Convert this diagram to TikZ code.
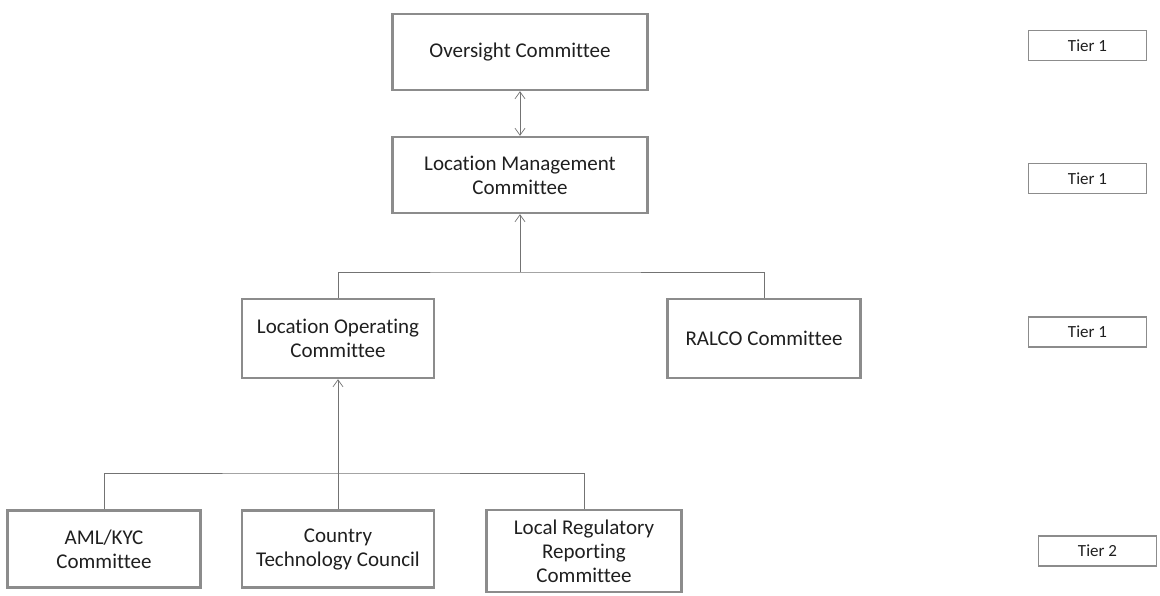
\documentclass[tikz,border=0pt]{standalone}
\usepackage{fontspec}
\setmainfont{Carlito}[Ligatures=NoCommon]
\usetikzlibrary{arrows.meta}
\begin{document}
\begin{tikzpicture}[x=1pt,y=-1pt,>={Straight Barb[length=7pt,width=10pt]}]
	\tikzstyle{committee}=[draw=black!45,line width=2.4pt,rectangle,align=center,font=\fontsize{21}{24}\selectfont,text=black!88]
	\tikzstyle{tier}=[draw=black!45,line width=1.8pt,rectangle,minimum width=118pt,minimum height=30pt,font=\fontsize{17}{20}\selectfont,text=black!88]
	\tikzstyle{link}=[draw=black!55,line width=0.7pt]
	\useasboundingbox (0,0) rectangle (1160,595);
	
	\node[committee,minimum width=255pt,minimum height=76pt] (Oversight) at (520,52) {Oversight Committee};
	\node[committee,minimum width=255pt,minimum height=76pt] (Mgmt) at (520,175) {Location Management\\Committee};
	\node[committee,minimum width=192pt,minimum height=79pt] (Operating) at (338,338.5) {Location Operating\\Committee};
	\node[committee,minimum width=193pt,minimum height=79pt] (Ralco) at (764,338.5) {RALCO Committee};
	\node[committee,minimum width=193pt,minimum height=77pt] (Aml) at (104,549) {AML/KYC\\Committee};
	\node[committee,minimum width=192pt,minimum height=77pt] (Tech) at (338,549) {Country\\Technology Council};
	\node[committee,minimum width=195pt,minimum height=82pt] (Reg) at (584,551) {Local Regulatory\\Reporting\\Committee};
	
	\node[tier] (Tier-1) at (1087.5,45.5) {Tier 1};
	\node[tier] (Tier-2) at (1087.5,178.5) {Tier 1};
	\node[tier] (Tier-3) at (1087.5,332) {Tier 1};
	\node[tier] (Tier-4) at (1097.5,551) {Tier 2};
	
	\coordinate (Join-1) at (520,272);
	\coordinate (Join-2) at (338,473);
	
	\draw[link,<->] (Oversight) -- (Mgmt);
	\draw[link,->] (Join-1) -- (Mgmt);
	\draw[link] (Operating.north) |- (Join-1) -| (Ralco.north);
	
	\draw[link,->] (Tech) -- (Operating);
	\draw[link] (Aml.north) |- (Join-2) -| (Reg.north);
\end{tikzpicture}
\end{document}
